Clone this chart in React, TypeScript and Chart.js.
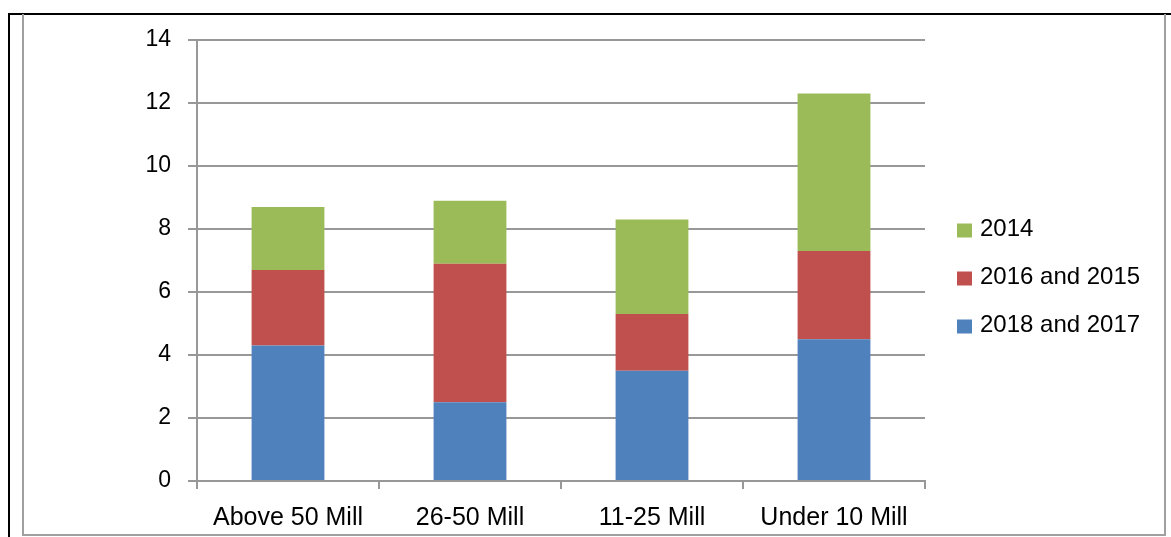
import React, { useEffect, useRef } from "react";
import { Chart, registerables } from "chart.js";

Chart.register(...registerables);

const categories = ["Above 50 Mill", "26-50 Mill", "11-25 Mill", "Under 10 Mill"];
const series2018and2017 = [4.3, 2.5, 3.5, 4.5];
const series2016and2015 = [2.4, 4.4, 1.8, 2.8];
const series2014 = [2.0, 2.0, 3.0, 5.0];
const yTicks = [0, 2, 4, 6, 8, 10, 12, 14];

const FONT = "'Liberation Sans', Arial, sans-serif";
const GRID = "#989898";

const rightLegend = {
  id: "rightLegend",
  afterDraw(chart: any) {
    const ctx = chart.ctx;
    const area = chart.chartArea;
    const items = chart.data.datasets.map((d: any) => ({ label: d.label, color: d.backgroundColor })).reverse();
    const centerY = chart.height / 2 + 3;
    const spacing = 48;
    const boxX = area.right + 32;
    ctx.save();
    ctx.font = `24px ${FONT}`;
    ctx.textBaseline = "middle";
    ctx.textAlign = "left";
    items.forEach((it: any, i: number) => {
      const y = centerY + (i - (items.length - 1) / 2) * spacing;
      ctx.fillStyle = it.color;
      ctx.fillRect(boxX, y - 6, 15, 14);
      ctx.fillStyle = "#000";
      ctx.fillText(it.label, boxX + 23, y);
    });
    ctx.restore();
  },
};

export default function App() {
  const ref = useRef<HTMLCanvasElement>(null);

  useEffect(() => {
    if (!ref.current) return;
    const chart = new Chart(ref.current, {
      type: "bar",
      data: {
        labels: categories,
        datasets: [
          { label: "2018 and 2017", data: series2018and2017, backgroundColor: "#4F81BD", borderWidth: 0 },
          { label: "2016 and 2015", data: series2016and2015, backgroundColor: "#C0504D", borderWidth: 0 },
          { label: "2014", data: series2014, backgroundColor: "#9BBB59", borderWidth: 0 },
        ],
      },
      options: {
        animation: false,
        responsive: false,
        maintainAspectRatio: false,
        layout: { padding: { left: 0, top: 25, right: 239, bottom: 0 } },
        datasets: { bar: { barPercentage: 1, categoryPercentage: 0.4 } },
        plugins: {
          legend: { display: false },
          tooltip: { enabled: false },
        },
        scales: {
          x: {
            stacked: true,
            grid: { display: true, drawOnChartArea: false, drawTicks: true, tickLength: 8, color: GRID, lineWidth: 2 },
            border: { display: true, color: GRID, width: 2 },
            ticks: { color: "#000", padding: 14, font: { family: FONT, size: 25 }, maxRotation: 0 },
            afterFit: (s: any) => { s.height = 53; },
          },
          y: {
            stacked: true,
            min: yTicks[0],
            max: yTicks[yTicks.length - 1],
            ticks: { stepSize: yTicks[1] - yTicks[0], color: "#000", padding: 17, font: { family: FONT, size: 23 } },
            grid: { color: GRID, lineWidth: 2, tickLength: 9 },
            border: { display: true, color: GRID, width: 2 },
            afterFit: (s: any) => { s.width = 173; s.paddingTop = 0; s.paddingBottom = 0; },
          },
        },
      } as any,
      plugins: [rightLegend],
    });
    return () => chart.destroy();
  }, []);

  return (
    <div style={{ position: "fixed", left: 0, top: 0, width: 1171, height: 537, background: "#fff", overflow: "hidden" }}>
      <div
        style={{
          position: "absolute", left: 8, top: 13, width: 1163, height: 524, boxSizing: "border-box",
          borderTop: "2px solid #000", borderLeft: "2px solid #000",
        }}
      />
      <div
        style={{
          position: "absolute", left: 22, top: 14, width: 1144, height: 522, boxSizing: "border-box",
          borderLeft: "2px solid #a0a0a0", borderRight: "2px solid #a0a0a0", borderBottom: "2px solid #a0a0a0",
        }}
      />
      <canvas ref={ref} width={1140} height={519} style={{ position: "absolute", left: 24, top: 15, display: "block" }} />
    </div>
  );
}
